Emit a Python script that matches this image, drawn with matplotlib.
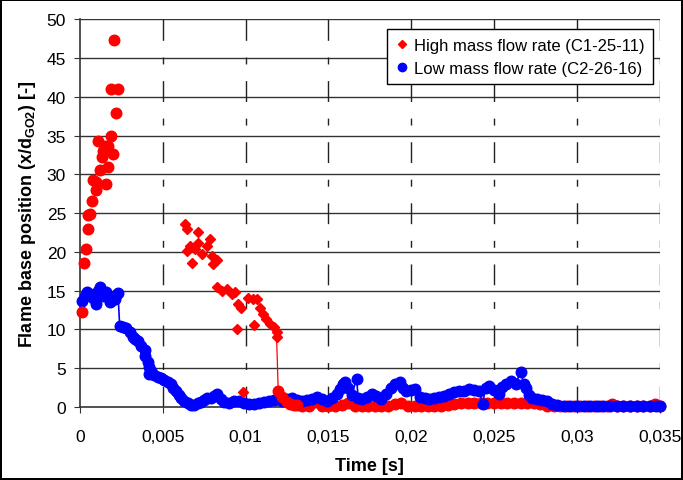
import matplotlib
matplotlib.use("Agg")
import matplotlib.pyplot as plt
import numpy as np
from matplotlib.lines import Line2D

plt.rcParams["font.family"] = ["Liberation Sans", "DejaVu Sans"]
plt.rcParams["mathtext.fontset"] = "custom"
plt.rcParams["mathtext.rm"] = "Liberation Sans"
plt.rcParams["mathtext.bf"] = "Liberation Sans:bold"

# --- high mass flow rate (C1-25-11): early circles ---
red_early_t = [0.00014, 0.00026, 0.00034, 0.00046, 0.0005, 0.0006, 0.0007, 0.0008,
               0.00097, 0.001, 0.0011, 0.0012, 0.00135, 0.0014, 0.0015, 0.0016,
               0.00167, 0.0017, 0.00185, 0.0019, 0.002, 0.00205, 0.00217, 0.0023]
red_early_y = [12.3, 18.6, 20.3, 22.9, 24.7, 24.9, 26.6, 29.3,
               28.0, 29.0, 34.3, 30.5, 32.2, 33.0, 33.7, 28.7,
               31.0, 33.7, 35.0, 41.0, 32.6, 47.3, 37.9, 41.0]

# diamonds
red_dia_t = [0.00634, 0.00644, 0.00644, 0.00664, 0.00674, 0.00694, 0.0071, 0.00714,
             0.00734, 0.00765, 0.00784, 0.00795, 0.00805, 0.00825, 0.00825, 0.00855,
             0.00885, 0.00915, 0.00935, 0.0095, 0.00955, 0.00975, 0.00982, 0.01016,
             0.01046, 0.01052, 0.01066, 0.01086, 0.01106, 0.01126, 0.01147, 0.0117,
             0.01187, 0.01187]
red_dia_y = [23.6, 23.0, 20.1, 20.8, 18.6, 20.4, 22.6, 21.2,
             19.7, 20.8, 21.6, 19.5, 18.4, 18.9, 15.4, 15.0,
             15.2, 14.6, 14.8, 10.1, 13.3, 12.8, 1.9, 14.1,
             13.9, 10.5, 13.9, 12.8, 12.0, 11.3, 10.7, 10.3,
             9.6, 9.0]

# drop and tail (circles)
red_tail_t = [0.01197, 0.0122, 0.0125, 0.0127, 0.0129, 0.0131,
              0.0134, 0.0138, 0.0142, 0.0146, 0.015, 0.0154, 0.0158, 0.0162,
              0.0166, 0.017, 0.0174, 0.0178, 0.0182, 0.0186, 0.019, 0.0194,
              0.0198, 0.0202, 0.0206, 0.021, 0.0214, 0.0218, 0.0222, 0.0226,
              0.023, 0.0234, 0.0238, 0.0242, 0.0246, 0.025, 0.0254, 0.0258,
              0.0262, 0.0266, 0.027, 0.0274, 0.0278, 0.0282, 0.0286, 0.029,
              0.0294, 0.0298, 0.0302, 0.0306, 0.031, 0.0314, 0.0318, 0.0321,
              0.0324, 0.0328, 0.0332, 0.0336, 0.034, 0.0344, 0.0347, 0.035]
red_tail_y = [2.1, 1.25, 0.6, 0.4, 0.3, 0.2,
              0.1, 0.15, 0.6, 0.15, 0.1, 0.15, 0.25, 0.5,
              0.15, 0.1, 0.15, 0.1, 0.15, 0.15, 0.4, 0.45,
              0.15, 0.1, 0.15, 0.1, 0.15, 0.15, 0.2, 0.35,
              0.45, 0.45, 0.45, 0.45, 0.45, 0.45, 0.45, 0.45,
              0.45, 0.45, 0.45, 0.45, 0.35, 0.15, 0.1, 0.1,
              0.1, 0.1, 0.1, 0.1, 0.1, 0.1, 0.1, 0.4,
              0.1, 0.1, 0.1, 0.1, 0.1, 0.1, 0.4, 0.1]

# --- low mass flow rate (C2-26-16) ---
blue_t = [0.00014, 0.0003, 0.00045, 0.0006, 0.0008, 0.001, 0.0011, 0.0012, 0.0013,
          0.0014, 0.0016, 0.0017, 0.0018, 0.0019, 0.0021, 0.0022, 0.0023,
          0.0024, 0.0026, 0.0028, 0.003, 0.0032, 0.0033, 0.0035, 0.0037,
          0.0039, 0.00395, 0.0041, 0.0042, 0.00415, 0.0043, 0.0045, 0.0047,
          0.0049, 0.0051, 0.0053, 0.0055, 0.0056, 0.0058, 0.006, 0.0061,
          0.0063, 0.0065, 0.0067, 0.0069, 0.0071, 0.0073, 0.0075, 0.0077,
          0.0079, 0.0081, 0.0083, 0.0085, 0.0087, 0.009, 0.0093, 0.0096,
          0.0099, 0.0102, 0.0105, 0.0108, 0.0111, 0.0114, 0.0117, 0.0119,
          0.0122, 0.0125, 0.0128, 0.0131, 0.0134, 0.0137, 0.014, 0.0143,
          0.0146, 0.0149, 0.0152, 0.0155, 0.0157, 0.0159, 0.016, 0.0162,
          0.0164, 0.0167, 0.0168, 0.017, 0.0173, 0.0176, 0.0179, 0.0182,
          0.0185, 0.0188, 0.019, 0.0193, 0.0195, 0.0197, 0.02, 0.0202,
          0.0205, 0.0208, 0.0211, 0.0214, 0.0217, 0.022, 0.0223, 0.0226,
          0.0229, 0.0232, 0.0235, 0.0238, 0.0241, 0.0243, 0.0245, 0.0247,
          0.025, 0.0253, 0.0255, 0.0257, 0.026, 0.0263, 0.0266, 0.0268,
          0.0269, 0.0271, 0.0273, 0.0276, 0.0279, 0.0282, 0.0285, 0.0288,
          0.0292, 0.0296, 0.03, 0.0304, 0.0308, 0.0312, 0.0316, 0.032,
          0.0324, 0.0328, 0.0332, 0.0336, 0.034, 0.0344, 0.0348, 0.035]
blue_y = [13.7, 14.3, 14.8, 14.6, 14.1, 13.3, 14.9, 15.4, 14.6,
          14.3, 14.8, 14.2, 13.5, 13.6, 13.9, 14.4, 14.7,
          10.4, 10.3, 10.2, 9.6, 9.0, 8.8, 8.5, 7.8,
          7.4, 6.6, 5.8, 5.1, 4.3, 4.6, 4.1, 3.8,
          3.7, 3.5, 3.2, 2.9, 2.5, 2.0, 1.5, 1.2,
          0.8, 0.5, 0.2, 0.3, 0.5, 0.6, 0.9, 1.2,
          1.1, 1.4, 1.7, 1.0, 0.6, 0.5, 0.7, 0.8,
          0.5, 0.4, 0.4, 0.5, 0.6, 0.7, 0.9, 1.0,
          0.8, 1.0, 1.2, 0.9, 0.8, 0.9, 1.0, 1.3,
          1.0, 0.8, 1.1, 1.6, 2.3, 2.9, 3.2, 2.4,
          1.5, 3.6, 1.1, 1.0, 1.3, 1.7, 1.4, 1.0,
          1.6, 2.5, 2.9, 3.2, 2.4, 2.0, 2.2, 2.3,
          1.3, 1.1, 1.0, 1.1, 1.3, 1.4, 1.7, 1.9,
          2.0, 2.1, 2.3, 2.2, 2.1, 0.4, 2.5, 2.7,
          2.2, 1.7, 2.6, 3.0, 3.4, 3.0, 4.5, 3.0,
          2.5, 1.5, 1.2, 1.0, 0.9, 0.8, 0.4, 0.2,
          0.15, 0.15, 0.15, 0.15, 0.15, 0.15, 0.15, 0.15,
          0.15, 0.15, 0.15, 0.15, 0.15, 0.15, 0.15, 0.15]

x_ticks = [0, 0.005, 0.01, 0.015, 0.02, 0.025, 0.03, 0.035]
x_labels = ["0", "0,005", "0,01", "0,015", "0,02", "0,025", "0,03", "0,035"]
y_ticks = [0, 5, 10, 15, 20, 25, 30, 35, 40, 45, 50]

RED = "#ff0000"
BLUE = "#0000ff"
MS = 7.6

fig = plt.figure(figsize=(6.83, 4.81), dpi=100, linewidth=1.5, edgecolor="black")
ax = fig.add_axes([0.117, 0.152, 0.849, 0.806])

# red tail below the blue, the drop line visible
line_t = np.r_[red_dia_t[-1], red_tail_t]
line_y = np.r_[red_dia_y[-1], red_tail_y]
ax.plot(line_t, line_y, color=RED, lw=0.9, zorder=2)
ax.plot(red_tail_t[6:], red_tail_y[6:], ls="none", marker="o", ms=MS,
        color=RED, mec=RED, zorder=2, clip_on=False)
ax.plot(blue_t, blue_y, color=BLUE, lw=1.2, marker="o", ms=MS, mec=BLUE,
        zorder=3, clip_on=False)
ax.plot(red_tail_t[:6], red_tail_y[:6], ls="none", marker="o", ms=MS,
        color=RED, mec=RED, zorder=4, clip_on=False)
ax.plot(red_early_t, red_early_y, ls="none", marker="o", ms=MS,
        color=RED, mec=RED, zorder=4, clip_on=False)
ax.plot(red_dia_t, red_dia_y, ls="none", marker="D", ms=5.6,
        color=RED, mec=RED, zorder=4)

ax.set_xlim(0, 0.035)
ax.set_ylim(0, 50)
ax.set_xticks(x_ticks)
ax.set_xticklabels(x_labels)
ax.set_yticks(y_ticks)
ax.tick_params(labelsize=12.5, length=4, color="#333333", pad=6)
ax.tick_params(axis="x", pad=12)

for y in y_ticks[1:]:
    ax.axhline(y, color="#333333", lw=1.0, zorder=1)
for x in x_ticks[1:]:
    ax.axvline(x, color="#222222", lw=1.0, dashes=(15, 12, 5, 12), zorder=1)

for side in ["top", "right"]:
    ax.spines[side].set_visible(False)
for side in ["left", "bottom"]:
    ax.spines[side].set_color("#333333")
    ax.spines[side].set_linewidth(1.2)
    ax.spines[side].set_zorder(1.5)

ax.set_xlabel("Time [s]", fontsize=13, fontweight="bold", labelpad=9)
ax.set_ylabel(r"Flame base position (x/d$_{\mathbf{GO2}}$) [-]", fontsize=13,
              fontweight="bold", labelpad=6)

handles = [
    Line2D([], [], ls="none", marker="D", ms=4.5, color=RED),
    Line2D([], [], ls="none", marker="o", ms=6, color=BLUE),
]
leg = ax.legend(handles, ["High mass flow rate (C1-25-11)", "Low mass flow rate (C2-26-16)"],
                loc="upper right", bbox_to_anchor=(0.988, 0.974), borderaxespad=0,
                fontsize=12, frameon=True, fancybox=False, handlelength=0.8,
                handletextpad=0.3, borderpad=0.5, labelspacing=0.5)
leg.get_frame().set_edgecolor("black")
leg.get_frame().set_linewidth(1.0)
leg.get_frame().set_alpha(1)
leg.set_zorder(10)

fig.savefig("out.png", dpi=100)
